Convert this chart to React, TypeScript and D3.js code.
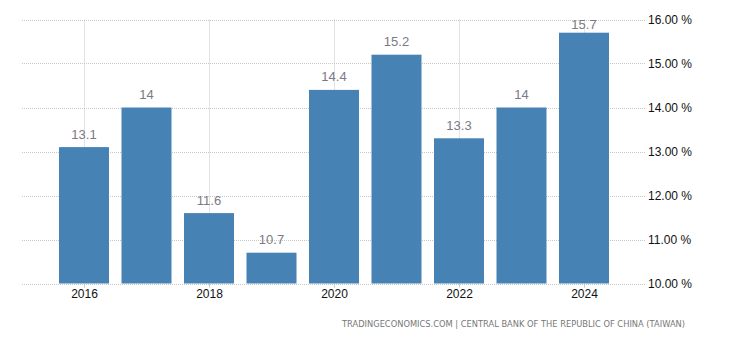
import React from "react";
import * as d3 from "d3";

const years = ["2016", "2017", "2018", "2019", "2020", "2021", "2022", "2023", "2024"];
const values = [13.1, 14, 11.6, 10.7, 14.4, 15.2, 13.3, 14, 15.7];
const yTicks = [10, 11, 12, 13, 14, 15, 16];
const xTickLabels = ["2016", "2018", "2020", "2022", "2024"];
const footer = "TRADINGECONOMICS.COM  |  CENTRAL BANK OF THE REPUBLIC OF CHINA (TAIWAN)";

export default function App() {
  const W = 730, H = 340;
  const left = 22, right = 646, top = 19.5, bottom = 283.5;
  const x = d3.scaleBand<string>().domain(years).range([left, right]).paddingInner(0.2).paddingOuter(0.592);
  const y = d3.scaleLinear().domain([10, 16]).range([bottom, top]);
  const font = "'Liberation Sans', Arial, sans-serif";
  return (
    <svg width={W} height={H} style={{ position: "absolute", left: 0, top: 0, background: "#fff" }}>
      {yTicks.map((t) => (
        <g key={t}>
          <line x1={left} x2={645} y1={Math.round(y(t)) + 0.5} y2={Math.round(y(t)) + 0.5} stroke="#c8c8c8" strokeDasharray="1,1" />
          <text x={648} y={y(t) + 4.5} fontFamily={font} fontSize={12} fill="#111">{t.toFixed(2)} %</text>
        </g>
      ))}
      {xTickLabels.map((l) => {
        const cx = Math.round(x(l)! + x.bandwidth() / 2) + 0.5;
        return (
          <g key={l}>
            <line x1={cx} x2={cx} y1={top} y2={bottom} stroke="#c8c8c8" strokeDasharray="1,1" />
            <line x1={cx} x2={cx} y1={bottom} y2={bottom + 4} stroke="#c8c8c8" />
            <text x={cx} y={298} textAnchor="middle" fontFamily={font} fontSize={12} fill="#111">{l}</text>
          </g>
        );
      })}
      {years.map((yr, i) => {
        const bx = x(yr)!;
        const by = y(values[i]);
        return (
          <g key={yr}>
            <rect x={bx} y={by} width={x.bandwidth()} height={bottom - by} fill="#4682B4" />
            <text x={bx + x.bandwidth() / 2} y={Math.max(by - 8.5, 28.5)} textAnchor="middle" fontFamily={font} fontSize={13} fill="#7a7a85">
              {String(values[i])}
            </text>
          </g>
        );
      })}
      <text x={685} y={327} textAnchor="end" fontFamily="'DejaVu Sans', Verdana, sans-serif" fontSize={9} fill="#777" textLength={343} lengthAdjust="spacingAndGlyphs">{footer}</text>
    </svg>
  );
}
